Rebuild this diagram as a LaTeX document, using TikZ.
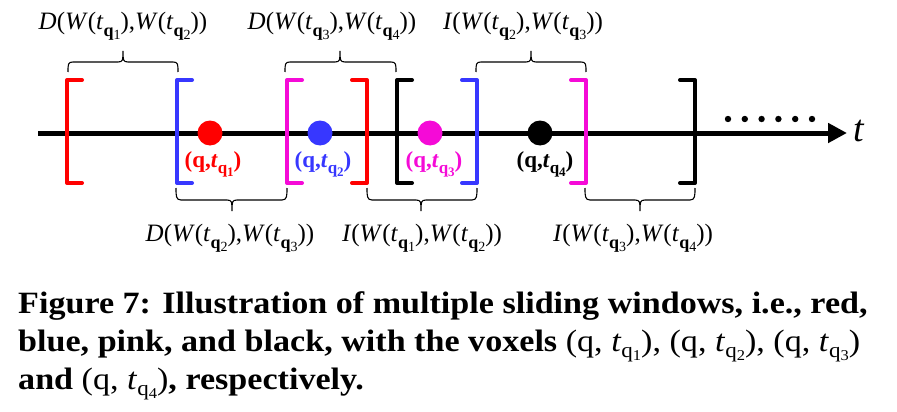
\documentclass[tikz,border=0pt]{standalone}
\usepackage{fontspec}
\setmainfont{Liberation Serif}
\newfontfamily\capfont[FakeStretch=1.1]{Liberation Serif}
\usetikzlibrary{arrows.meta}
\definecolor{wred}{RGB}{255,0,0}
\definecolor{wblue}{RGB}{55,55,255}
\definecolor{wpink}{RGB}{245,10,215}
\newcommand\tq[1]{\textit{t}\raisebox{-0.26em}{\fontsize{18}{18}\selectfont{\bfseries q}\raisebox{-0.18em}{\fontsize{14}{14}\selectfont #1}}}
\newcommand\vtq[1]{\textit{t}\raisebox{-0.26em}{\fontsize{17}{17}\selectfont q\raisebox{-0.18em}{\fontsize{13}{13}\selectfont #1}}}
\newcommand\Wt[1]{\textit{W}(\tq{#1})}
\newcommand\ctq[1]{\textit{t}\raisebox{-0.22em}{\fontsize{21}{21}\selectfont q\raisebox{-0.12em}{\fontsize{15}{15}\selectfont #1}}}
\newcommand\hbraceup[3]{% x1, x2, xm
  \draw[brace] (#1,72) .. controls (#1,64) and (#1,62) .. (#1+5,62) -- (#3-5,62)
    .. controls (#3,62) and (#3,60) .. (#3,51) .. controls (#3,60) and (#3,62) .. (#3+5,62)
    -- (#2-5,62) .. controls (#2,62) and (#2,64) .. (#2,72);}
\newcommand\hbracedown[3]{%
  \draw[brace] (#1,188) .. controls (#1,196) and (#1,200) .. (#1+5,200) -- (#3-5,200)
    .. controls (#3,200) and (#3,202) .. (#3,211) .. controls (#3,202) and (#3,200) .. (#3+5,200)
    -- (#2-5,200) .. controls (#2,200) and (#2,196) .. (#2,188);}
\begin{document}
\begin{tikzpicture}[x=1pt,y=-1pt,
  axis/.style={line width=5pt,black},
  wbracket/.style={line width=4pt,line join=round,line cap=round},
  voxel/.style={circle,inner sep=0pt,minimum size=25pt},
  vlabel/.style={font=\fontsize{23}{25}\selectfont\bfseries,inner sep=0pt},
  blabel/.style={font=\fontsize{25}{27}\selectfont,inner sep=0pt},
  brace/.style={line width=1.1pt,black},
  capline/.style={anchor=base west,inner sep=0pt,font=\capfont\fontsize{31}{34}\selectfont\bfseries}]
\useasboundingbox (0,0) rectangle (897,412);
% axis
\coordinate (a0) at (38,133);
\coordinate (a1) at (847,133);
\draw[axis,-{Triangle[length=19pt,width=19pt]}] (a0) -- (a1);
\node[inner sep=0pt,font=\fontsize{38}{38}\selectfont\itshape] (tl) at (859,131) {t};
% dots
\foreach \i in {0,...,5} \fill (728+16.8*\i,119) circle (3.2pt);
% brackets
\draw[wbracket,wred]   (82,80) -- (67,80) -- (67,183) -- (82,183);
\draw[wbracket,wblue]  (192,80) -- (177,80) -- (177,183) -- (192,183);
\draw[wbracket,wpink]  (302,80) -- (287,80) -- (287,183) -- (302,183);
\draw[wbracket,wred]   (352,80) -- (367,80) -- (367,183) -- (352,183);
\draw[wbracket,black]  (412,80) -- (397,80) -- (397,183) -- (412,183);
\draw[wbracket,wblue]  (462,80) -- (477,80) -- (477,183) -- (462,183);
\draw[wbracket,wpink]  (571,80) -- (586,80) -- (586,183) -- (571,183);
\draw[wbracket,black]  (680,80) -- (695,80) -- (695,183) -- (680,183);
% voxels
\node[voxel,fill=wred]  (v1) at (210,133) {};
\node[voxel,fill=wblue] (v2) at (320,133) {};
\node[voxel,fill=wpink] (v3) at (430,133) {};
\node[voxel,fill=black] (v4) at (540,133) {};
\node[vlabel,text=wred]  (l1) at (213,164) {(q,\vtq1)};
\node[vlabel,text=wblue] (l2) at (323,164) {(q,\vtq2)};
\node[vlabel,text=wpink] (l3) at (434,164) {(q,\vtq3)};
\node[vlabel,text=black] (l4) at (545,164) {(q,\vtq4)};
% braces top
\hbraceup{68}{178}{123}
\hbraceup{285}{396}{340}
\hbraceup{476}{586}{531}
\node[blabel] (d12) at (123,26) {\textit{D}(\Wt1,\Wt2)};
\node[blabel] (d34) at (332,26) {\textit{D}(\Wt3,\Wt4)};
\node[blabel] (i23) at (523,26) {\textit{I}(\Wt2,\Wt3)};
% braces bottom
\hbracedown{176}{287}{232}
\hbracedown{367}{477}{421}
\hbracedown{585}{695}{640}
\node[blabel] (d23) at (230,238) {\textit{D}(\Wt2,\Wt3)};
\node[blabel] (i12) at (422,238) {\textit{I}(\Wt1,\Wt2)};
\node[blabel] (i34) at (633,238) {\textit{I}(\Wt3,\Wt4)};
% caption
\node[capline] (c1) at (18,313) {Figure 7: Illustration of multiple sliding windows, i.e., red,};
\node[capline] (c2) at (18,351) {blue, pink, and black, with the voxels {\mdseries(q, \ctq1), (q, \ctq2), (q, \ctq3)}};
\node[capline] (c3) at (18,389) {and {\mdseries(q, \ctq4)}, respectively.};
\end{tikzpicture}
\end{document}
